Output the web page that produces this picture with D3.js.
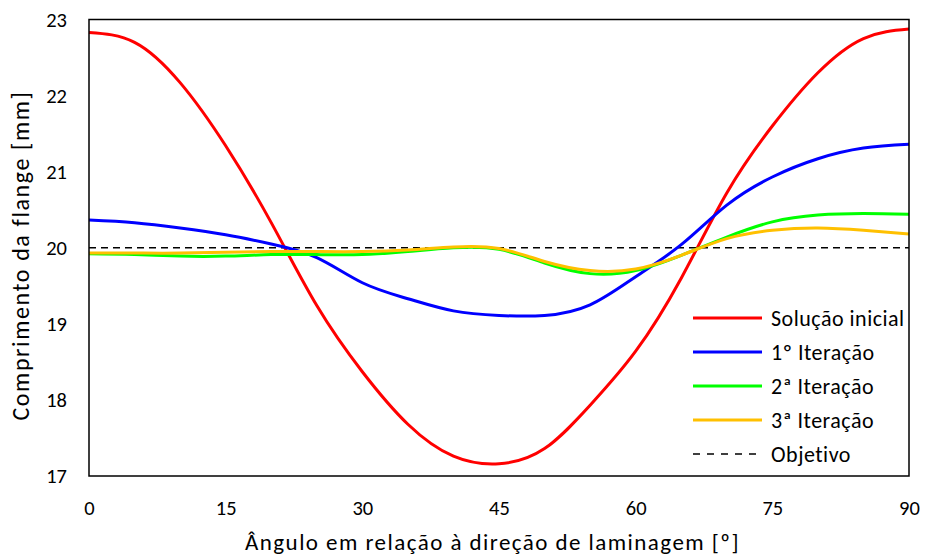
<!DOCTYPE html>
<html>
<head>
<meta charset="utf-8">
<script src="https://cdn.jsdelivr.net/npm/d3@7"></script>
<style>
  html, body { margin: 0; padding: 0; background: #fff; }
  svg { display: block; font-family: Carlito, Calibri, Lato, sans-serif; }
</style>
</head>
<body>
<svg id="chart" width="926" height="559"></svg>
<script>
// Flange length vs. angle to the rolling direction, for each iteration
const angles = [0, 5, 10, 15, 20, 25, 30, 35, 40, 45, 50, 55, 60, 65, 70, 75, 80, 85, 90];

const solucaoInicial = [22.83, 22.70, 22.17, 21.34, 20.33, 19.24, 18.37, 17.68, 17.26, 17.16, 17.36, 17.93, 18.64, 19.60, 20.72, 21.60, 22.30, 22.75, 22.875];
const iteracao1 = [20.365, 20.33, 20.26, 20.17, 20.05, 19.87, 19.54, 19.33, 19.17, 19.11, 19.11, 19.25, 19.62, 20.04, 20.56, 20.93, 21.17, 21.31, 21.36];
const iteracao2 = [19.92, 19.91, 19.89, 19.89, 19.91, 19.91, 19.91, 19.95, 20.00, 19.98, 19.80, 19.66, 19.70, 19.90, 20.14, 20.34, 20.43, 20.45, 20.44];
const iteracao3 = [19.93, 19.93, 19.93, 19.94, 19.95, 19.95, 19.95, 19.97, 20.01, 19.99, 19.82, 19.70, 19.72, 19.90, 20.12, 20.23, 20.26, 20.23, 20.18];
const objetivo = 20;

const xTicks = [0, 15, 30, 45, 60, 75, 90];
const yTicks = [17, 18, 19, 20, 21, 22, 23];

const seriesNames = ["Solução inicial", "1º Iteração", "2ª Iteração", "3ª Iteração", "Objetivo"];
const seriesColors = ["#ff0000", "#0000ff", "#00ff00", "#ffc000", "#000000"];

const xTitle = "Ângulo em relação à direção de laminagem [º]";
const yTitle = "Comprimento da flange [mm]";

const svg = d3.select("#chart");
const plot = { left: 89, right: 909, top: 19.5, bottom: 476 };

const x = d3.scaleLinear().domain([0, 90]).range([plot.left, plot.right]);
const y = d3.scaleLinear().domain([17, 23]).range([plot.bottom, plot.top]);

// Axes: labels only, no tick marks
const xAxis = svg.append("g")
  .attr("transform", `translate(0,${plot.bottom})`)
  .call(d3.axisBottom(x).tickValues(xTicks).tickSize(0).tickPadding(24).tickFormat(d3.format("d")));
const yAxis = svg.append("g")
  .attr("transform", `translate(${plot.left},0)`)
  .call(d3.axisLeft(y).tickValues(yTicks).tickSize(0).tickPadding(22).tickFormat(d3.format("d")));
[xAxis, yAxis].forEach(g => {
  g.select(".domain").remove();
  g.selectAll("text").attr("font-size", 20.5).attr("fill", "#000")
    .attr("font-family", "Carlito, Calibri, Lato, sans-serif");
});

// Target line
svg.append("line")
  .attr("x1", x(0)).attr("x2", x(90))
  .attr("y1", y(objetivo)).attr("y2", y(objetivo))
  .attr("stroke", "#000").attr("stroke-width", 1.6)
  .attr("stroke-dasharray", "7,5");

// Series curves (smooth spline through the sampled angles)
const line = d3.line()
  .x((d, i) => x(angles[i]))
  .y(d => y(d))
  .curve(d3.curveNatural);

const allSeries = [solucaoInicial, iteracao1, iteracao2, iteracao3];
allSeries.forEach((vals, i) => {
  svg.append("path")
    .datum(vals)
    .attr("d", line)
    .attr("fill", "none")
    .attr("stroke", seriesColors[i])
    .attr("stroke-width", 3)
    .attr("stroke-linejoin", "round");
});

// Plot frame
svg.append("rect")
  .attr("x", plot.left).attr("y", plot.top)
  .attr("width", plot.right - plot.left).attr("height", plot.bottom - plot.top)
  .attr("fill", "none").attr("stroke", "#000").attr("stroke-width", 1.5);

// Axis titles
svg.append("text")
  .attr("x", 492.5).attr("y", 550)
  .attr("text-anchor", "middle").attr("font-size", 23).attr("letter-spacing", 1.45)
  .attr("fill", "#000")
  .text(xTitle);
svg.append("text")
  .attr("transform", "translate(29,255.5) rotate(-90)")
  .attr("text-anchor", "middle").attr("font-size", 24).attr("letter-spacing", 1.6)
  .attr("fill", "#000")
  .text(yTitle);

// Legend
const legend = svg.append("g").attr("transform", "translate(693,318)");
seriesNames.forEach((name, i) => {
  const row = legend.append("g").attr("transform", `translate(0,${i * 34})`);
  row.append("line")
    .attr("x1", 0).attr("x2", i === 4 ? 64 : 69)
    .attr("y1", 0).attr("y2", 0)
    .attr("stroke", seriesColors[i])
    .attr("stroke-width", i === 4 ? 1.6 : 3)
    .attr("stroke-dasharray", i === 4 ? "7,7" : null);
  row.append("text")
    .attr("x", 78).attr("y", 0).attr("dy", "0.35em")
    .attr("font-size", 22).attr("letter-spacing", 0.5).attr("fill", "#000")
    .text(name);
});
</script>
</body>
</html>
